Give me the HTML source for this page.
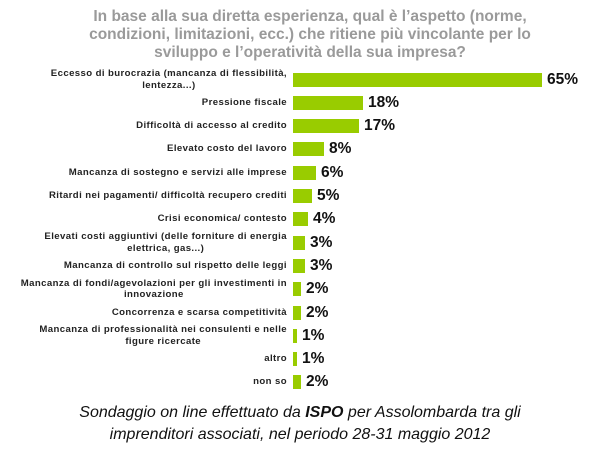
<!DOCTYPE html>
<html><head><meta charset="utf-8"><style>
body{margin:0;width:600px;height:450px;background:#fff;position:relative;font-family:"Liberation Sans",Arial,sans-serif;overflow:hidden}
.t{position:absolute;left:0;width:620px;top:8px;text-align:center;color:#9a9a9a;font-weight:bold;font-size:15.5px;line-height:18px}
.l{position:absolute;right:313px;text-align:center;font-weight:bold;font-size:9.6px;letter-spacing:0.4px;line-height:11.5px;color:#222;white-space:nowrap}
.b{position:absolute;left:293px;height:14px;background:#99cc00}
.v{position:absolute;font-weight:bold;font-size:15.5px;color:#111;line-height:16px}
.f{position:absolute;left:0;width:600px;top:402px;text-align:center;font-style:italic;font-size:16px;line-height:22px;color:#111}
</style></head><body>
<div class="t">In base alla sua diretta esperienza, qual è l’aspetto (norme,<br>condizioni, limitazioni, ecc.) che ritiene più vincolante per lo<br>sviluppo e l’operatività della sua impresa?</div>
<div id="c"></div>
<div class="f">Sondaggio on line effettuato da <b>ISPO</b> per Assolombarda tra gli<br>imprenditori associati, nel periodo 28-31 maggio 2012</div>
<script>
var d=[["Eccesso di burocrazia (mancanza di flessibilità,<br>lentezza...)",65,249],["Pressione fiscale",18,70],["Difficoltà di accesso al credito",17,66],["Elevato costo del lavoro",8,31],["Mancanza di sostegno e servizi alle imprese",6,23],["Ritardi nei pagamenti/ difficoltà recupero crediti",5,19],["Crisi economica/ contesto",4,15],["Elevati costi aggiuntivi (delle forniture di energia<br>elettrica, gas...)",3,12],["Mancanza di controllo sul rispetto delle leggi",3,12],["Mancanza di fondi/agevolazioni per gli investimenti in<br>innovazione",2,8],["Concorrenza e scarsa competitività",2,8],["Mancanza di professionalità nei consulenti e nelle<br>figure ricercate",1,4],["altro",1,4],["non so",2,8]];
var h="";d.forEach(function(r,i){var c=79.5+i*23.3;var two=r[0].indexOf("<br>")>0;
h+='<div class="l" style="top:'+(c-(two?11.5:6))+'px">'+r[0]+'</div>';
h+='<div class="b" style="top:'+(c-7)+'px;width:'+r[2]+'px"></div>';
h+='<div class="v" style="top:'+(c-8)+'px;left:'+(293+r[2]+5)+'px">'+r[1]+'%</div>';});
document.getElementById("c").innerHTML=h;
</script>
</body></html>
